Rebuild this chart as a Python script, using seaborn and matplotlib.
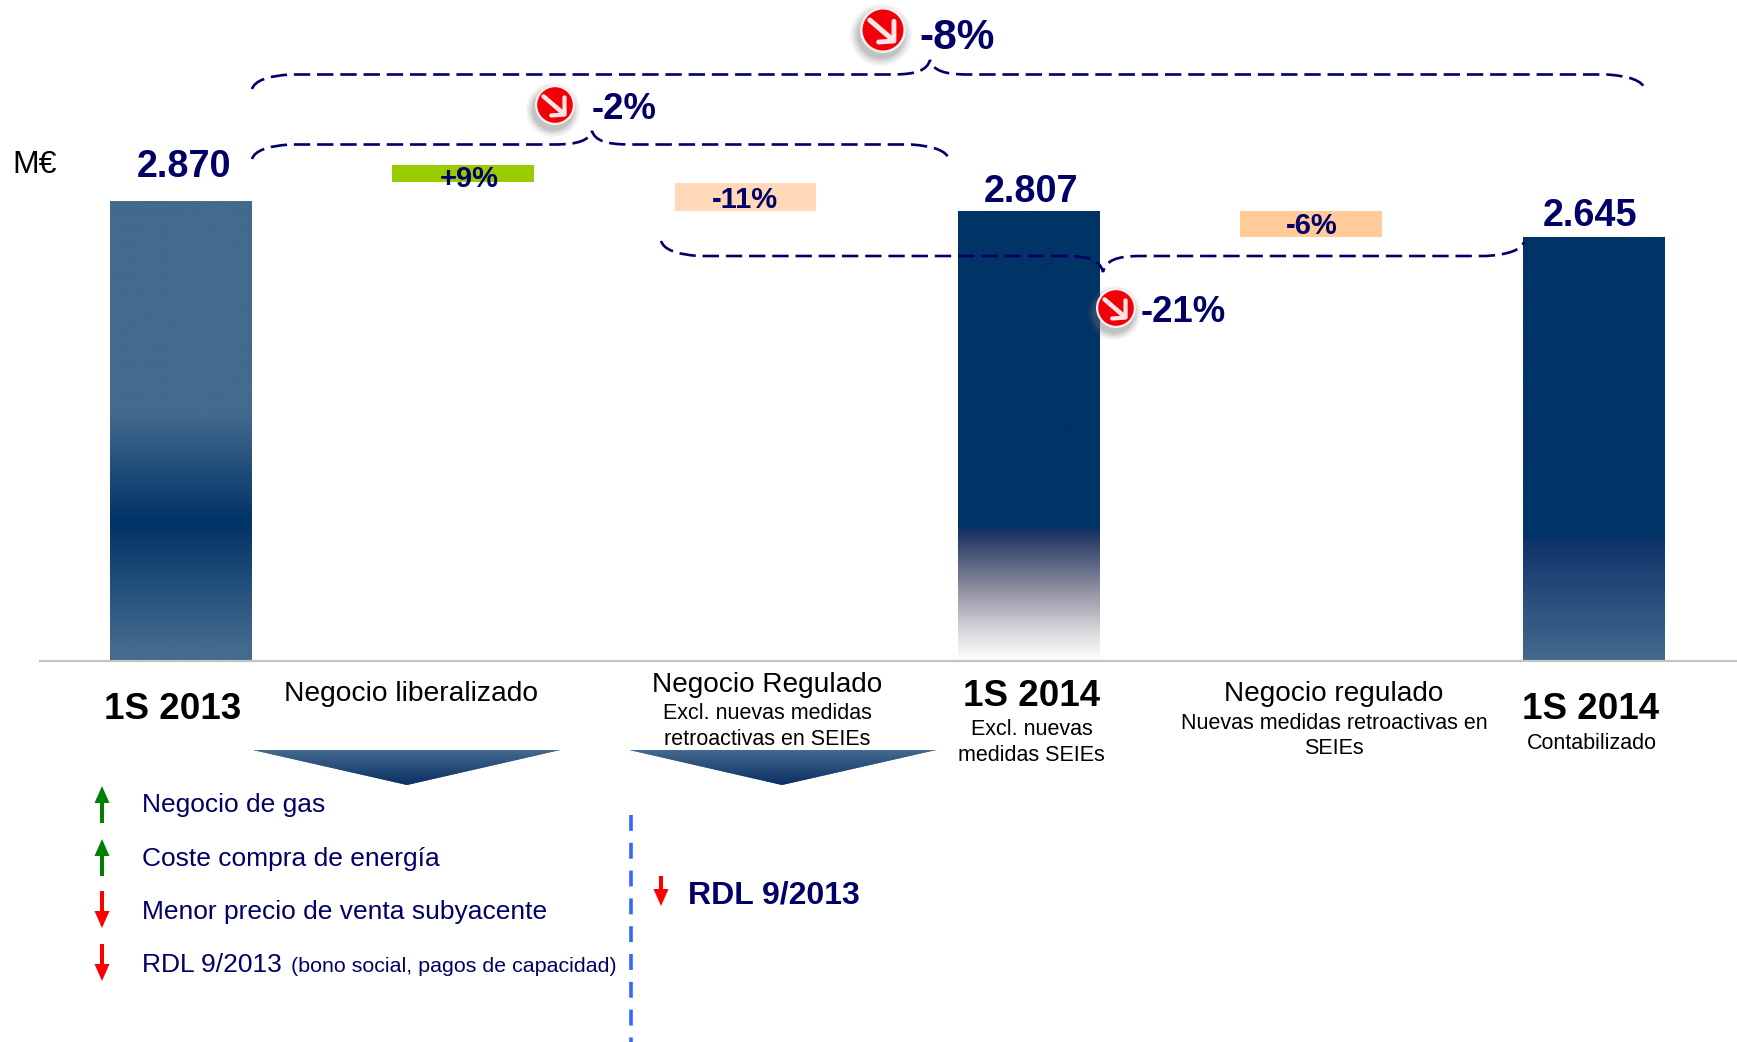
import numpy as np
import matplotlib
matplotlib.use('Agg')
import matplotlib.pyplot as plt
from matplotlib.colors import LinearSegmentedColormap
from matplotlib.patches import Ellipse, PathPatch, Polygon
from matplotlib.path import Path
import seaborn as sns

# data (M EUR)
categories = ['1S 2013', 'Negocio liberalizado', 'Negocio Regulado',
              '1S 2014 Excl.', 'Negocio regulado', '1S 2014 Contabilizado']
bar_heights = [2870, 107, 174, 2807, 162, 2645]
bar_bottoms = [0, 2987, 2807, 0, 2645, 0]
bar_colors = ['#436A8F', '#99CC00', '#FFD9B8', '#003366', '#FFCC99', '#003366']
total_labels = ['2.870', '2.807', '2.645']
delta_labels = ['+9%', '-11%', '-6%']
change_labels = ['-8%', '-2%', '-21%']
liberal_items = ['Negocio de gas', 'Coste compra de energía',
                 'Menor precio de venta subyacente', 'RDL 9/2013']

W, H = 1737, 1042
NAVY = '#000066'
DARK = '#003366'
STEEL = '#436A8F'

sns.set_theme(style='white')
plt.rcParams['font.family'] = ['Liberation Sans', 'DejaVu Sans']

fig = plt.figure(figsize=(W / 100, H / 100), dpi=100, facecolor='white')
ax = fig.add_axes([0, 0, 1, 1])

sns.barplot(x=categories, y=bar_heights, bottom=bar_bottoms, color=DARK,
            width=0.5, errorbar=None, ax=ax)
for bar, col in zip(ax.patches, bar_colors):
    bar.set_facecolor(col)
    bar.set_edgecolor('none')
    bar.set_linewidth(0)

# 282.6 px per category, 0.16 px per M EUR, zero line at 660 px from the top
ax.set_xlim(-180.5 / 282.6, 5 + (W - 1593.5) / 282.6)
ax.set_ylim(-(H - 660) / 0.16, 660 / 0.16)
ax.axis('off')


def gradient_fill(axis, patch, stops):
    cmap = LinearSegmentedColormap.from_list('g', stops, N=512)
    x0, y0, x1, y1 = patch.get_path().get_extents(patch.get_patch_transform()).extents
    img = axis.imshow(np.linspace(0, 1, 512).reshape(-1, 1), cmap=cmap, aspect='auto',
                      extent=(x0, x1, y0, y1), origin='upper', zorder=patch.get_zorder() + 0.1,
                      interpolation='bilinear')
    img.set_clip_path(patch)


xl, yl = ax.get_xlim(), ax.get_ylim()
gradient_fill(ax, ax.patches[0], [(0, STEEL), (0.466, STEEL), (0.70, DARK), (0.97, STEEL), (1, STEEL)])
gradient_fill(ax, ax.patches[3], [(0, DARK), (0.70, DARK), (0.72, '#1F3563'), (0.84, '#8C8C9E'),
                                  (0.93, '#D4D4D8'), (1, '#FFFFFF')])
gradient_fill(ax, ax.patches[5], [(0, DARK), (0.71, DARK), (0.72, '#10346A'), (1, STEEL)])
ax.set_xlim(xl)
ax.set_ylim(yl)

# overlay in pixels for the annotations
ov = fig.add_axes([0, 0, 1, 1])
ov.set_xlim(0, W)
ov.set_ylim(H, 0)
ov.axis('off')
ov.patch.set_alpha(0)

ov.plot([39, W], [661, 661], color='#C4C4C4', lw=1.6, solid_capstyle='butt')


def txt(x, y, s, size, color='black', weight='normal', ha='center'):
    ov.text(x, y, s, fontsize=size, color=color, fontweight=weight, ha=ha, va='baseline', zorder=6)


# totals and deltas
for x, y, s in zip([183.5, 1031, 1590], [177, 202, 226], total_labels):
    txt(x, y, s, 27.2, NAVY, 'bold')
for x, y, s in zip([469, 745, 1312], [187, 208, 234], delta_labels):
    txt(x, y, s, 21, NAVY, 'bold')
txt(12, 173, 'M€', 23, ha='left')
txt(919, 49, change_labels[0], 30.5, NAVY, 'bold', 'left')
txt(592, 119, change_labels[1], 26.3, NAVY, 'bold', 'left')
txt(1141, 322, change_labels[2], 26.3, NAVY, 'bold', 'left')

# category captions
txt(173, 719, '1S 2013', 26.5, weight='bold')
txt(411, 701, 'Negocio liberalizado', 20.3)
txt(767, 692, 'Negocio Regulado', 20.2)
txt(767, 719, 'Excl. nuevas medidas', 15.5)
txt(767, 745, 'retroactivas en SEIEs', 15.5)
txt(1032, 706, '1S 2014', 26.5, weight='bold')
txt(1032, 735, 'Excl. nuevas', 15.5)
txt(1031, 761, 'medidas SEIEs', 15.5)
txt(1334, 701, 'Negocio regulado', 20.2)
txt(1334, 729, 'Nuevas medidas retroactivas en', 15.5)
txt(1334, 754, 'SEIEs', 15.5)
txt(1591, 719, '1S 2014', 26.5, weight='bold')
txt(1592, 749, 'Contabilizado', 15.5)


def brace(x0, y0, x1, y1, xm, ym, level, r=38):
    # curly brace: ends at y0 / y1, flat run at level, peak at (xm, ym)
    s = 1 if ym > level else -1
    verts = [(x0, y0), (x0 + 4, level - (level - y0) * 0.15), (x0 + r, level),
             (xm - r, level),
             (xm - 14, level), (xm - 3, level + s * 4), (xm, ym),
             (xm + 3, level + s * 4), (xm + 14, level), (xm + r, level),
             (x1 - r, level),
             (x1 - 4, level - (level - y1) * 0.15), (x1, y1)]
    codes = [Path.MOVETO, Path.CURVE3, Path.CURVE3, Path.LINETO,
             Path.CURVE4, Path.CURVE4, Path.CURVE4, Path.CURVE4, Path.CURVE4, Path.CURVE4,
             Path.LINETO, Path.CURVE3, Path.CURVE3]
    ov.add_patch(PathPatch(Path(verts, codes), fc='none', ec=NAVY, lw=1.9,
                           linestyle=(0, (6.2, 2.6)), zorder=4))


brace(252, 89, 1645, 89, 930, 60, 74.5)
brace(252, 159, 949, 159, 592, 131, 144.5)
brace(661, 241, 1524, 242, 1103, 272, 256)


def icon(cx, cy, r):
    for k, a in zip([1.35, 1.25, 1.15, 1.05], [0.07, 0.10, 0.14, 0.18]):
        ov.add_patch(Ellipse((cx - 2, cy + 5), 2 * r * k, 2 * r * k, fc='#707070', ec='none', alpha=a, zorder=7))
    ov.add_patch(Ellipse((cx, cy), 2 * r, 2 * r, fc='#F4F0F0', ec='none', zorder=7))
    ov.add_patch(Ellipse((cx, cy), 1.78 * r, 1.78 * r, fc='#F00008', ec='none', zorder=7))
    u = r / 21
    ov.plot([cx - 12 * u, cx + 9 * u], [cy - 9 * u, cy + 9 * u], color='#FBE4E4', lw=3.4 * u,
            solid_capstyle='round', zorder=8)
    ov.plot([cx + 10 * u, cx + 10 * u, cx - 4 * u], [cy - 8 * u, cy + 10 * u, cy + 11 * u], color='#FBE4E4',
            lw=3.2 * u, solid_capstyle='round', solid_joinstyle='round', zorder=8)


icon(883, 30, 23)
icon(555, 105, 20)
icon(1116, 308, 20)


def triangle(x0, x1, xt, y0, yt):
    tri = Polygon([(x0, y0), (x1, y0), (xt, yt)], closed=True, fc=STEEL, ec='none', zorder=3)
    ov.add_patch(tri)
    cmap = LinearSegmentedColormap.from_list('t', [STEEL, '#0B2F62'], N=256)
    img = ov.imshow(np.linspace(0, 1, 256).reshape(-1, 1), cmap=cmap, aspect='auto',
                    extent=(x0, x1, yt, y0), zorder=3.1)
    img.set_clip_path(tri)


triangle(253, 560, 407, 750, 785)
triangle(629.5, 936, 782, 750, 785)
ov.set_xlim(0, W)
ov.set_ylim(H, 0)


def arrow(x, y0, y1, color, hw=7.5, hl=17):
    s = 1 if y1 > y0 else -1
    ov.add_patch(Polygon([(x - 2, y0), (x + 2, y0), (x + 2, y1 - s * hl), (x + hw, y1 - s * hl),
                          (x, y1), (x - hw, y1 - s * hl), (x - 2, y1 - s * hl)],
                         closed=True, fc=color, ec='none', zorder=5))


arrow(102, 823, 786, '#008000')
arrow(102, 876, 839, '#008000')
arrow(102, 891, 928, '#FF0000')
arrow(102, 944, 981, '#FF0000')
arrow(661, 876, 906, '#FF0000')

# left list
for y, s in zip([812, 866, 919, 972], liberal_items):
    txt(142, y, s, 19, NAVY, ha='left')
txt(291, 972, '(bono social, pagos de capacidad)', 15.4, NAVY, ha='left')
txt(688, 903, 'RDL 9/2013', 23, NAVY, 'bold', 'left')

ov.plot([631, 631], [815, H], color='#3366FF', lw=2.6, linestyle=(0, (4.4, 3.3)),
        dash_capstyle='butt')

fig.savefig('out.png', dpi=100, facecolor='white')
